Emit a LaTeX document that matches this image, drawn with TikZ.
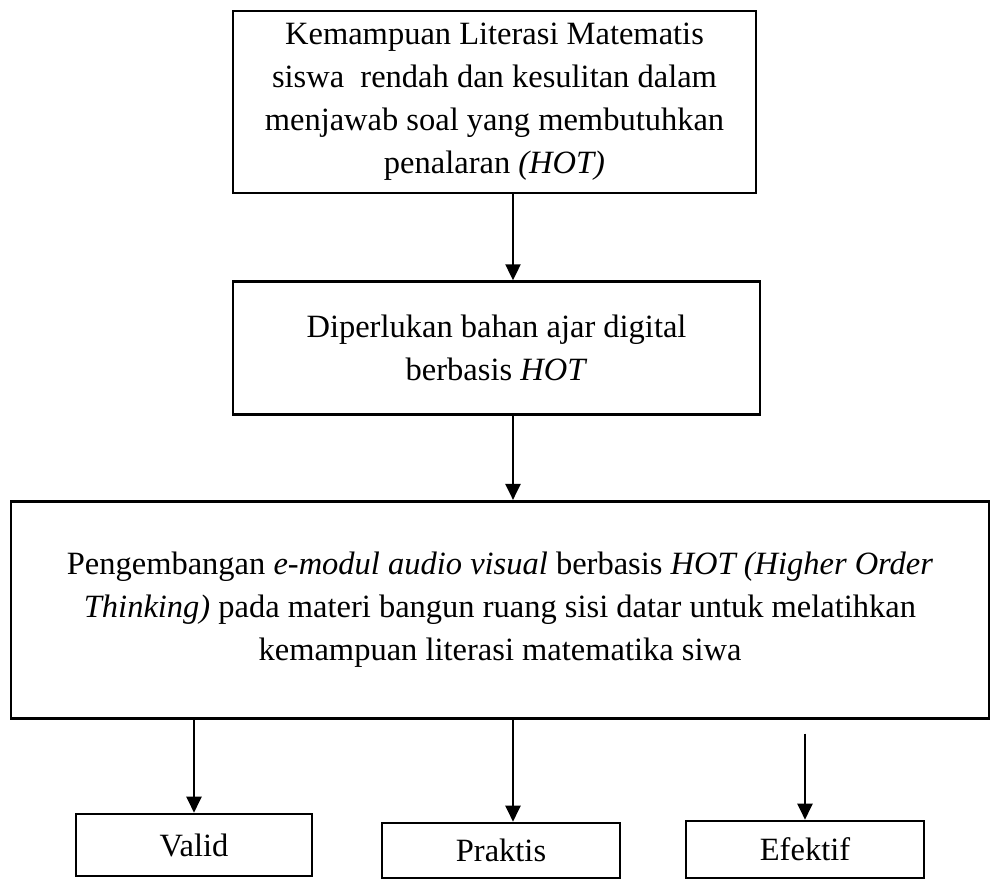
\documentclass[tikz,border=0pt]{standalone}
\usepackage{fontspec}
\setmainfont{Liberation Serif}
\usetikzlibrary{positioning,arrows.meta}
\tikzset{
  block/.style={
    draw,
    rectangle,
    line width=2.6pt,
    inner sep=0pt,
    align=center,
    font=\fontsize{32.5}{43}\selectfont
  },
  line/.style={->,>={Triangle[length=16pt,width=15pt]},line width=2.2pt}
}
\begin{document}
\begin{tikzpicture}[x=1pt,y=-1pt]
\useasboundingbox (0,0) rectangle (991,880);

					\node[block, minimum width=523pt, minimum height=182pt] (problem) at (494.5,102) {Kemampuan Literasi Matematis\\ siswa\ \ rendah dan kesulitan dalam\\ menjawab soal yang membutuhkan\\ penalaran \textit{(HOT)}};

					\node[block, minimum width=527pt, minimum height=133pt, below = 86pt of problem, xshift=2pt] (need) {Diperlukan bahan ajar digital\\ berbasis \textit{HOT}};

					\node[block, minimum width=978pt, minimum height=217pt, below = 84pt of need, xshift=3.5pt] (develop) {Pengembangan \textit{e-modul audio visual} berbasis \textit{HOT (Higher Order}\\ \textit{Thinking)} pada materi bangun ruang sisi datar untuk melatihkan\\ kemampuan literasi matematika siwa};

					% results
					\node[block, minimum width=236pt, minimum height=62pt] (valid) at (194,845) {Valid};
					\node[block, minimum width=238pt, minimum height=55pt] (praktis) at (501,850.5) {Praktis};
					\node[block, minimum width=238pt, minimum height=57pt] (efektif) at (805,849.5) {Efektif};

					\coordinate (spine) at (513,0);

					\draw[line] (spine |- problem.south) -- (spine |- need.north);
					\draw[line] (spine |- need.south) -- (spine |- develop.north);

					\draw[line] (valid.north |- develop.south) -- (valid.north);
					\draw[line] (spine |- develop.south) -- (spine |- praktis.north);
					\draw[line] (develop.south -| efektif.north) ++(0,14) -- (efektif.north);

				\end{tikzpicture}
\end{document}
